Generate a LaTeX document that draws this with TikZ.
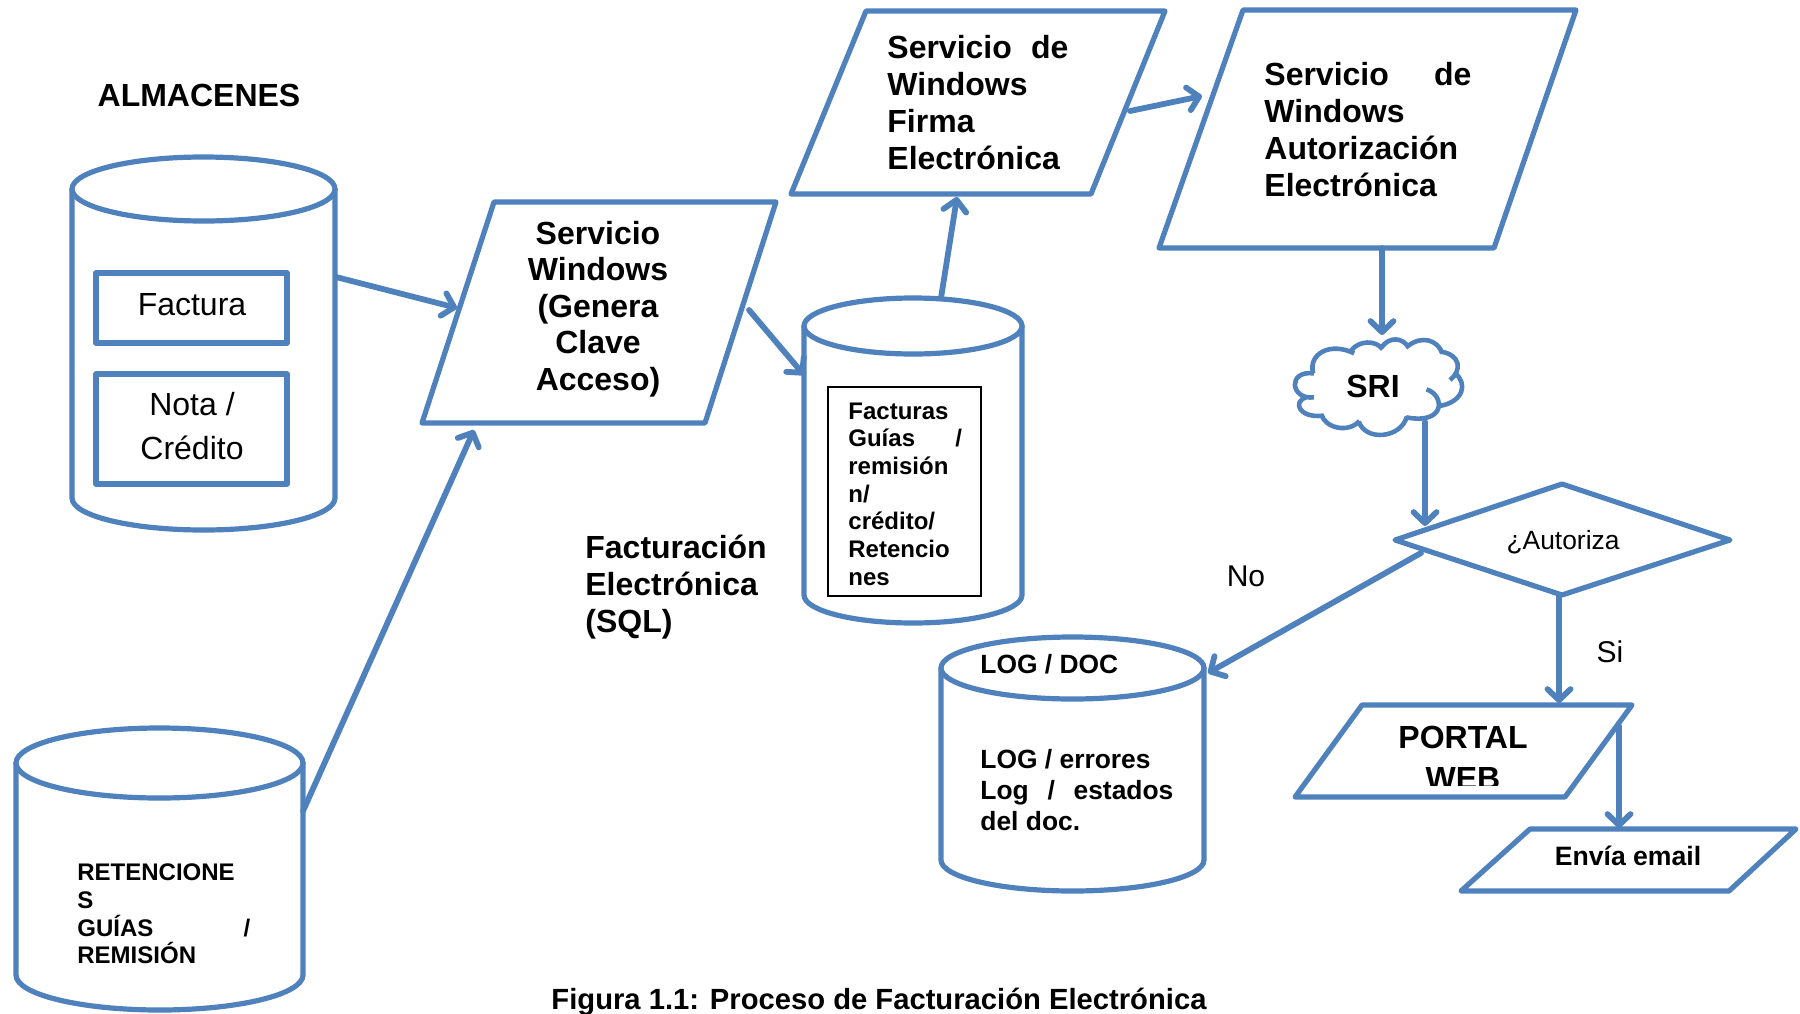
\documentclass[tikz,border=0pt]{standalone}
\usepackage{fontspec}
\setmainfont{Liberation Sans}
\usetikzlibrary{arrows.meta}
\definecolor{office}{HTML}{4F81BD}
\tikzset{
  shapeline/.style={draw=office,line width=2.6pt,line join=round,line cap=round,fill=white},
  flow/.style={draw=office,line width=2.9pt,line cap=round,-{Straight Barb[length=5.5pt,width=11.5pt,round,line width=2.9pt]}},
  bigb/.style={font=\fontsize{16}{18.5}\selectfont\bfseries,align=left,inner sep=0pt},
  bigc/.style={font=\fontsize{16}{18.3}\selectfont\bfseries,align=center,inner sep=0pt},
  smallb/.style={font=\fontsize{12}{13.85}\selectfont\bfseries,align=left,inner sep=0pt},
  midb/.style={font=\fontsize{13.2}{15.5}\selectfont\bfseries,align=left,inner sep=0pt},
  plain/.style={font=\fontsize{16}{21}\selectfont,align=center,inner sep=0pt},
  label/.style={font=\fontsize{15}{18}\selectfont,inner sep=0pt}
}
\newcommand{\cylshape}[5]{%
  \path[shapeline] ({#1-#2},#3) -- ({#1-#2},#5)
     arc[start angle=180,end angle=360,x radius=#2*0.5pt,y radius=#4*0.5pt]
     -- ({#1+#2},#3);
  \path[shapeline] (#1,#3) ellipse[x radius=#2*0.5pt,y radius=#4*0.5pt];
}
\begin{document}
\begin{tikzpicture}[x=0.5pt,y=-0.5pt]
\useasboundingbox (0,0) rectangle (1800,1013);

% cylinders
\cylshape{203.5}{131.5}{189}{32}{498}
\cylshape{913}{109}{326}{28}{595}
\cylshape{1072.5}{131.5}{668}{31}{860}
\cylshape{159.5}{143.5}{763}{35}{975}

% boxes inside cylinders
\path[shapeline] (96,273) rectangle (287,343);
\path[shapeline] (96,374) rectangle (287,484);
\draw[black,line width=0.6pt] (828,387) rectangle (981,596);

% parallelograms
\path[shapeline] (494,202) -- (776,202) -- (705,423) -- (422,423) -- cycle;
\path[shapeline] (866,11) -- (1165,11) -- (1091,194) -- (791,194) -- cycle;
\path[shapeline] (1243,10) -- (1576,10) -- (1494,248) -- (1159,248) -- cycle;
\path[shapeline] (1362,705) -- (1632,705) -- (1565,797) -- (1295,797) -- cycle;
\path[shapeline] (1530,829) -- (1796,829) -- (1729,891) -- (1461,891) -- cycle;

% diamond
\path[shapeline] (1395,540) -- (1562,484) -- (1730,540) -- (1562,595) -- cycle;

% cloud
\begin{scope}[shift={(1250,320)},x=0.17544pt,y=-0.1667pt]
\draw[draw=office,line width=2.3pt,line cap=butt,line join=round]
  (180,160) .. controls (165,100) and (230,65) .. (297,100)
  (288,92) .. controls (310,60) and (360,60) .. (378,88)
  (375,82) .. controls (395,50) and (435,50) .. (453,84)
  (450,78) .. controls (490,45) and (535,60) .. (548,100)
  (545,95) .. controls (600,105) and (605,150) .. (570,180)
  (585,160) .. controls (620,190) and (610,245) .. (540,258)
  (503,208) .. controls (555,225) and (560,315) .. (445,292)
  (447,290) .. controls (430,355) and (330,365) .. (310,305)
  (312,303) .. controls (280,340) and (215,325) .. (203,283)
  (207,287) .. controls (140,295) and (120,245) .. (160,232)
  (182,232) .. controls (115,240) and (105,150) .. (182,160);
\end{scope}

% connector ends
\coordinate (storeOut) at (336,277);
\coordinate (claveInA) at (457,308);
\coordinate (claveOut) at (749,310);
\coordinate (factIn) at (804,375);
\coordinate (retOut) at (303,811);
\coordinate (claveInB) at (474,430);
\coordinate (factOut) at (941,298);
\coordinate (firmaIn) at (957,197);
\coordinate (firmaOut) at (1130,111);
\coordinate (autIn) at (1202,96);
\coordinate (autOut) at (1382,248);
\coordinate (sriIn) at (1382,335);
\coordinate (sriOut) at (1425,422);
\coordinate (decIn) at (1425,526);
\coordinate (decNo) at (1421,553);
\coordinate (logIn) at (1208,673);
\coordinate (decSi) at (1559,595);
\coordinate (portalIn) at (1559,703);
\coordinate (portalOut) at (1619,726);
\coordinate (mailIn) at (1619,828);

\draw[flow] (storeOut) -- (claveInA);
\draw[flow] (claveOut) -- (factIn);
\draw[flow] (retOut) -- (claveInB);
\draw[flow] (factOut) -- (firmaIn);
\draw[flow] (firmaOut) -- (autIn);
\draw[flow] (autOut) -- (sriIn);
\draw[flow] (sriOut) -- (decIn);
\draw[flow] (decNo) -- (logIn);
\draw[flow] (decSi) -- (portalIn);
\draw[flow] (portalOut) -- (mailIn);

% text
\node[font=\fontsize{16}{18}\selectfont\bfseries,inner sep=0pt] (almacenes) at (199,95) {ALMACENES};
\node[plain] (factura) at (192,305) {Factura};
\node[plain] (nota) at (192,426) {Nota /\\[1.2pt]Crédito};
\node[bigc] (clave) at (598,309) {Servicio\\Windows\\(Genera\\Clave\\Acceso)};
\node[bigb,anchor=west] (firma) at (887,103) {\makebox[90.5pt][s]{Servicio\hfill de}\\Windows\\Firma\\Electrónica};
\node[bigb,anchor=west] (autoriza) at (1264,130) {\makebox[103.5pt][s]{Servicio\hfill de}\\Windows\\Autorización\\Electrónica};
\node[smallb,anchor=west] (facturas) at (848,494) {Facturas\\\makebox[56.8pt][s]{Guías\hfill /}\\remisión\\n/\\crédito/\\Retencio\\nes};
\node[bigb,anchor=west] (sql) at (585,587) {Facturación\\Electrónica\\(SQL)};
\node[midb,anchor=west] (logdoc) at (980,664) {LOG / DOC};
\node[midb,anchor=west] (logtxt) at (980,790) {LOG / errores\\\makebox[96.5pt][s]{Log\hfill /\hfill estados}\\del doc.};
\node[smallb,anchor=west] (reten) at (77,914) {RETENCIONE\\S\\\makebox[86.5pt][s]{GUÍAS\hfill /}\\REMISIÓN};
\node[font=\fontsize{16}{18}\selectfont\bfseries,inner sep=0pt] (sri) at (1373,386) {SRI};
\node[font=\fontsize{13.2}{17}\selectfont,inner sep=0pt] (dec) at (1563,542) {¿Autoriza};
\node[label] (no) at (1246,576) {No};
\node[label] (si) at (1610,652) {Si};
\node[font=\fontsize{16}{18}\selectfont\bfseries,inner sep=0pt] (portal) at (1463,737) {PORTAL};
\begin{scope}
\clip (1380,750) rectangle (1550,785);
\node[font=\fontsize{16}{18}\selectfont\bfseries,anchor=base,inner sep=0pt] (web) at (1463,789) {WEB};
\end{scope}
\node[font=\fontsize{13.3}{15}\selectfont\bfseries,inner sep=0pt] (mail) at (1628,856) {Envía email};
\node[font=\fontsize{14.6}{16}\selectfont\bfseries,inner sep=0pt] (caption) at (879,1002) {Figura 1.1: Proceso de Facturación Electrónica};
\end{tikzpicture}
\end{document}
